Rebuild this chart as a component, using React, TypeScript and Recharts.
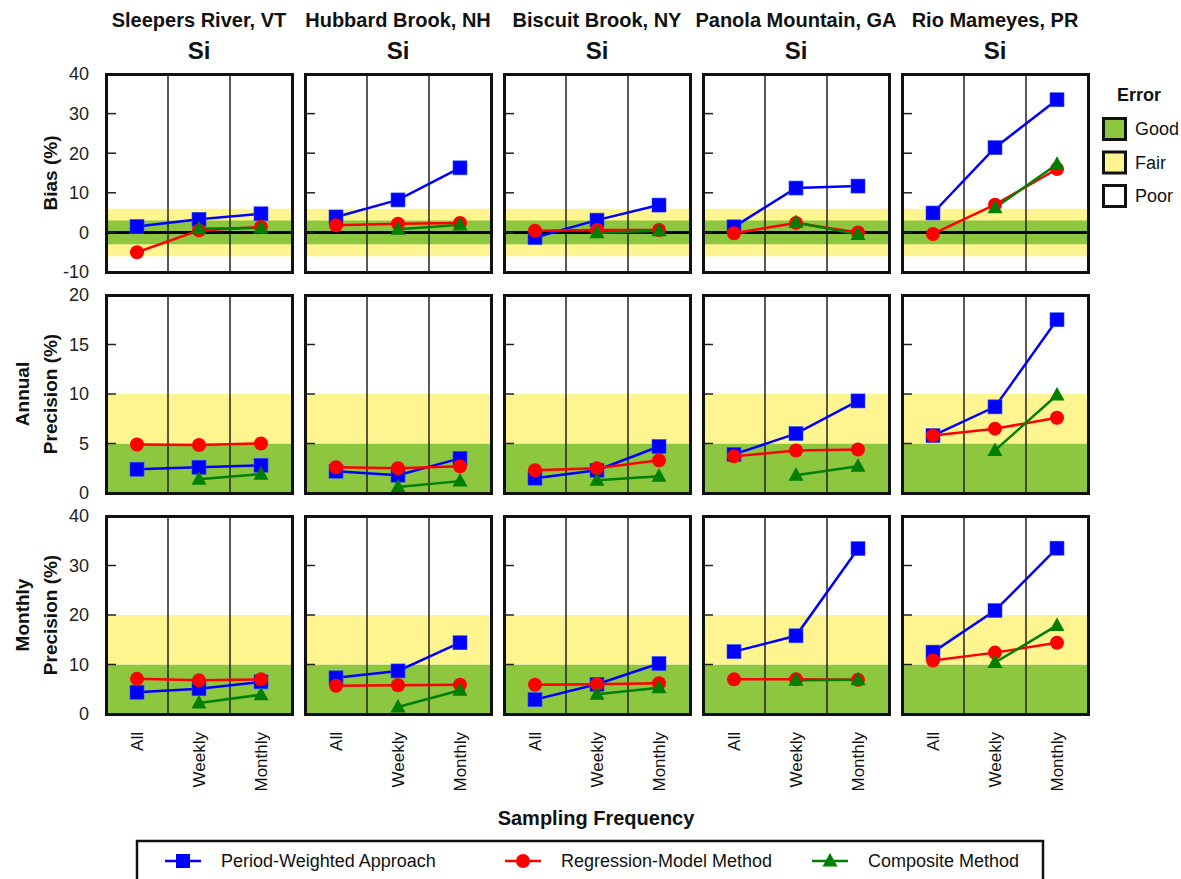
import React from 'react';
import { LineChart, Line, XAxis, YAxis, ReferenceArea, ReferenceLine } from 'recharts';

const frequencies = ['All', 'Weekly', 'Monthly'];
const sites = ['Sleepers River, VT', 'Hubbard Brook, NH', 'Biscuit Brook, NY', 'Panola Mountain, GA', 'Rio Mameyes, PR'];

// Bias (%), one row per site: All, Weekly, Monthly
const biasPeriodWeighted = [
  [1.5, 3.3, 4.7],
  [3.9, 8.2, 16.3],
  [-1.3, 3.1, 6.9],
  [1.4, 11.2, 11.7],
  [4.9, 21.4, 33.5],
];
const biasRegression = [
  [-5.0, 0.5, 1.4],
  [1.8, 2.2, 2.4],
  [0.4, 0.6, 0.6],
  [-0.2, 2.4, 0.0],
  [-0.4, 7.0, 16.0],
];
const biasComposite = [
  [null, 0.9, 1.1],
  [null, 0.8, 1.9],
  [null, -0.1, 0.4],
  [null, 2.5, -0.5],
  [null, 6.2, 17.2],
];

// Annual precision (%)
const annualPeriodWeighted = [
  [2.4, 2.6, 2.8],
  [2.2, 1.8, 3.5],
  [1.5, 2.3, 4.7],
  [3.9, 6.0, 9.3],
  [5.8, 8.7, 17.5],
];
const annualRegression = [
  [4.9, 4.85, 5.0],
  [2.6, 2.5, 2.7],
  [2.3, 2.5, 3.3],
  [3.7, 4.3, 4.4],
  [5.8, 6.5, 7.6],
];
const annualComposite = [
  [null, 1.4, 1.9],
  [null, 0.6, 1.2],
  [null, 1.3, 1.7],
  [null, 1.8, 2.7],
  [null, 4.3, 9.9],
];

// Monthly precision (%)
const monthlyPeriodWeighted = [
  [4.4, 5.1, 6.5],
  [7.3, 8.7, 14.4],
  [2.9, 6.0, 10.2],
  [12.6, 15.8, 33.4],
  [12.5, 20.9, 33.5],
];
const monthlyRegression = [
  [7.1, 6.8, 7.0],
  [5.7, 5.8, 5.9],
  [5.9, 6.0, 6.2],
  [7.0, 7.0, 6.9],
  [10.8, 12.4, 14.4],
];
const monthlyComposite = [
  [null, 2.2, 3.9],
  [null, 1.4, 4.8],
  [null, 4.0, 5.3],
  [null, 6.8, 6.9],
  [null, 10.4, 17.9],
];

const biasTicks = [-10, 0, 10, 20, 30, 40];
const annualTicks = [0, 5, 10, 15, 20];
const monthlyTicks = [0, 10, 20, 30, 40];

const FONT = '"Liberation Sans", Arial, Helvetica, sans-serif';
const BLUE = '#0000ff';
const RED = '#ff0000';
const GREEN = '#007f00';
const GOOD = '#8dc63f';
const FAIR = '#fff590';

const PW = 186;
const PH = 198;
const AX = 45;
const M = 12;
const XH = 90;
const colLeft = (c: number) => 106 + c * 199;
const rowTop = (r: number) => 74 + r * 221;

const rows = [
  {
    pw: biasPeriodWeighted, rm: biasRegression, cm: biasComposite,
    domain: [-10, 40], ticks: biasTicks,
    bands: [{ y1: -6, y2: 6, fill: FAIR }, { y1: -3, y2: 3, fill: GOOD }],
    zero: true,
  },
  {
    pw: annualPeriodWeighted, rm: annualRegression, cm: annualComposite,
    domain: [0, 20], ticks: annualTicks,
    bands: [{ y1: 0, y2: 5, fill: GOOD }, { y1: 5, y2: 10, fill: FAIR }],
    zero: false,
  },
  {
    pw: monthlyPeriodWeighted, rm: monthlyRegression, cm: monthlyComposite,
    domain: [0, 40], ticks: monthlyTicks,
    bands: [{ y1: 0, y2: 10, fill: GOOD }, { y1: 10, y2: 20, fill: FAIR }],
    zero: false,
  },
];

const squareDot = (p: any) => {
  if (p.cx == null || p.cy == null) return <g key={p.index} />;
  return <rect key={p.index} x={p.cx - 7} y={p.cy - 7} width={14} height={14} fill={BLUE} stroke="#2a4dff" strokeWidth={0.6} />;
};
const circleDot = (p: any) => {
  if (p.cx == null || p.cy == null) return <g key={p.index} />;
  return <circle key={p.index} cx={p.cx} cy={p.cy} r={7} fill={RED} />;
};
const triangleDot = (p: any) => {
  if (p.cx == null || p.cy == null) return <g key={p.index} />;
  const { cx, cy } = p;
  return <polygon key={p.index} points={`${cx},${cy - 8} ${cx + 7.5},${cy + 5.5} ${cx - 7.5},${cy + 5.5}`} fill={GREEN} />;
};

const YTick = (props: any) => {
  const { x, y, payload, showLabel } = props;
  return (
    <g>
      <line x1={x} x2={x + 10} y1={y} y2={y} stroke="#222" strokeWidth={1.5} />
      {showLabel && (
        <text x={x - 17} y={y} dy="0.36em" textAnchor="end" fontSize={18} fill="#222" fontFamily={FONT}>
          {payload.value}
        </text>
      )}
    </g>
  );
};

const XTick = (props: any) => {
  const { x, y, payload } = props;
  const ty = y + 18;
  return (
    <text x={x} y={ty} dy="0.35em" textAnchor="end" fontSize={17} fill="#111" fontFamily={FONT} transform={`rotate(-90, ${x}, ${ty})`}>
      {frequencies[payload.value]}
    </text>
  );
};

const Panel = ({ r, c }: { r: number; c: number }) => {
  const row = rows[r];
  const bottom = r === rows.length - 1;
  const data = frequencies.map((f, i) => ({
    idx: i,
    freq: f,
    pw: row.pw[c][i],
    rm: row.rm[c][i],
    cm: row.cm[c][i],
  }));
  return (
    <>
      <div style={{ position: 'absolute', left: colLeft(c) - AX, top: rowTop(r) - M }}>
        <LineChart width={AX + PW} height={PH + M + (bottom ? XH : M)} data={data} margin={{ top: M, right: 0, bottom: bottom ? 0 : M, left: 0 }}>
          <XAxis
            dataKey="idx"
            type="number"
            domain={[-0.5, 2.5]}
            ticks={[0, 1, 2]}
            hide={!bottom}
            height={XH}
            axisLine={false}
            tickLine={false}
            tickSize={0}
            tickMargin={0}
            interval={0}
            tick={<XTick />}
          />
          <YAxis
            type="number"
            domain={row.domain}
            ticks={row.ticks}
            width={AX}
            axisLine={false}
            tickLine={false}
            tickSize={0}
            tickMargin={0}
            interval={0}
            tick={<YTick showLabel={c === 0} />}
          />
          {row.bands.map((b, i) => (
            <ReferenceArea key={i} y1={b.y1} y2={b.y2} fill={b.fill} fillOpacity={1} stroke="none" />
          ))}
          <ReferenceLine x={0.5} stroke="#222" strokeWidth={1.5} />
          <ReferenceLine x={1.5} stroke="#222" strokeWidth={1.5} />
          {row.zero && <ReferenceLine y={0} stroke="#000" strokeWidth={3} />}
          <Line dataKey="pw" stroke={BLUE} strokeWidth={2.5} dot={squareDot} activeDot={false} isAnimationActive={false} />
          <Line dataKey="rm" stroke={RED} strokeWidth={2.5} dot={circleDot} activeDot={false} isAnimationActive={false} />
          <Line dataKey="cm" stroke={GREEN} strokeWidth={2.5} dot={triangleDot} activeDot={false} isAnimationActive={false} />
        </LineChart>
      </div>
      <div
        style={{
          position: 'absolute',
          left: colLeft(c) - 1.5,
          top: rowTop(r) - 1.5,
          width: PW + 3,
          height: PH + 3,
          border: '3px solid #111',
          boxSizing: 'border-box',
          pointerEvents: 'none',
        }}
      />
    </>
  );
};

const legendItems = [
  { label: 'Period-Weighted Approach', color: BLUE, x: 165, shape: 'square' },
  { label: 'Regression-Model Method', color: RED, x: 505, shape: 'circle' },
  { label: 'Composite Method', color: GREEN, x: 812, shape: 'triangle' },
];

const errorItems = [
  { label: 'Good', fill: GOOD },
  { label: 'Fair', fill: FAIR },
  { label: 'Poor', fill: '#ffffff' },
];

const rowTitles = [['Bias (%)'], ['Annual', 'Precision (%)'], ['Monthly', 'Precision (%)']];

export default function App() {
  return (
    <div style={{ position: 'absolute', left: 0, top: 0, width: 1181, height: 879, background: '#fff', fontFamily: FONT, overflow: 'hidden' }}>
      <svg width={1181} height={879} style={{ position: 'absolute', left: 0, top: 0 }} fontFamily={FONT}>
        {sites.map((s, c) => (
          <g key={s}>
            <text x={colLeft(c) + PW / 2} y={27} textAnchor="middle" fontSize={20} fontWeight="bold" fill="#111">{s}</text>
            <text x={colLeft(c) + PW / 2} y={59} textAnchor="middle" fontSize={24} fontWeight="bold" fill="#111">Si</text>
          </g>
        ))}
        {rowTitles.map((lines, r) => {
          const cy = rowTop(r) + PH / 2;
          return lines.map((t, i) => {
            const x = lines.length === 1 ? 57 : i === 0 ? 29 : 57;
            return (
              <text key={`${r}-${i}`} x={x} y={cy} textAnchor="middle" fontSize={19} fontWeight="bold" fill="#111" transform={`rotate(-90, ${x}, ${cy})`}>
                {t}
              </text>
            );
          });
        })}
        <text x={596} y={825} textAnchor="middle" fontSize={20} fontWeight="bold" fill="#111">Sampling Frequency</text>

        {/* Error legend */}
        <text x={1139} y={101} textAnchor="middle" fontSize={18} fontWeight="bold" fill="#111">Error</text>
        {errorItems.map((e, i) => (
          <g key={e.label}>
            <rect x={1103.5} y={118.5 + i * 33.5} width={22} height={21} fill={e.fill} stroke="#111" strokeWidth={3} />
            <text x={1135} y={135 + i * 33.5} fontSize={18} fill="#111">{e.label}</text>
          </g>
        ))}

        {/* Method legend */}
        <rect x={137} y={841} width={906} height={60} fill="none" stroke="#111" strokeWidth={2.5} />
        {legendItems.map((it) => {
          const cx = it.x + 18;
          const cy = 861;
          return (
            <g key={it.label}>
              <line x1={it.x} x2={it.x + 36} y1={cy} y2={cy} stroke={it.color} strokeWidth={2.5} />
              {it.shape === 'square' && <rect x={cx - 7} y={cy - 7} width={14} height={14} fill={it.color} />}
              {it.shape === 'circle' && <circle cx={cx} cy={cy} r={7} fill={it.color} />}
              {it.shape === 'triangle' && <polygon points={`${cx},${cy - 8} ${cx + 7.5},${cy + 5.5} ${cx - 7.5},${cy + 5.5}`} fill={it.color} />}
              <text x={it.x + 56} y={cy + 6} fontSize={18} fill="#111">{it.label}</text>
            </g>
          );
        })}
      </svg>
      {rows.map((_, r) => sites.map((s, c) => <Panel key={`${r}-${c}`} r={r} c={c} />))}
    </div>
  );
}
